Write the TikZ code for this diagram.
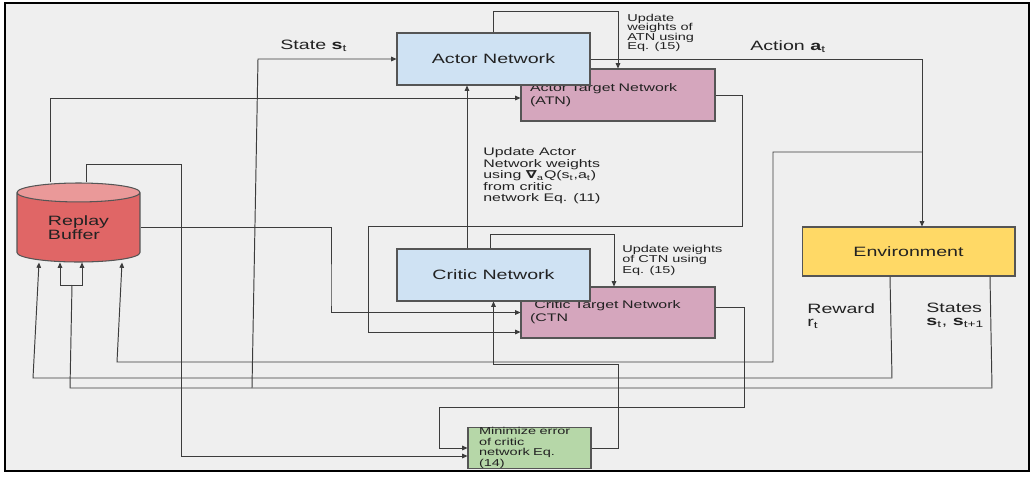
\documentclass[tikz,border=0pt]{standalone}
\usepackage{fontspec}
\setmainfont{Liberation Sans}[FakeStretch=1.45]
\newfontfamily\nablafont{DejaVu Sans}[FakeStretch=1.45]
\usetikzlibrary{arrows.meta,shapes.geometric}

\definecolor{bgc}{HTML}{EFEFEF}
\definecolor{linec}{HTML}{3C3C3C}
\definecolor{boxc}{HTML}{555555}
\definecolor{netc}{HTML}{CFE2F3}
\definecolor{tgtc}{HTML}{D5A6BD}
\definecolor{envc}{HTML}{FFD966}
\definecolor{minc}{HTML}{B6D7A8}
\definecolor{bufc}{HTML}{E06666}
\definecolor{buftop}{HTML}{EA9999}
\definecolor{txtc}{HTML}{222222}

\tikzset{
  box/.style={draw=boxc, line width=0.6pt, text=txtc, inner sep=0pt},
  net/.style={box, fill=netc, minimum width=3.86cm, minimum height=1.04cm, font=\fontsize{7.7}{7.9}\selectfont},
  tgt/.style={box, fill=tgtc, minimum width=3.88cm, minimum height=1.04cm, text width=3.52cm, align=left, font=\fontsize{6.25}{7.4}\selectfont},
  buffer/.style={cylinder, shape border rotate=90, aspect=0.31, draw=boxc, line width=0.6pt,
    cylinder uses custom fill, cylinder body fill=bufc, cylinder end fill=buftop,
    minimum width=2.46cm, minimum height=1.58cm, inner sep=0pt, align=left, text=txtc,
    font=\fontsize{7.7}{7.9}\selectfont},
  link/.style={draw=linec, line width=0.55pt},
  arr/.style={link, -{Triangle[length=3pt,width=2.6pt]}},
  bigtxt/.style={text=txtc, inner sep=0pt, align=left, font=\fontsize{7.7}{7.9}\selectfont},
  midtxt/.style={text=txtc, inner sep=0pt, align=left, font=\fontsize{6.25}{6.6}\selectfont},
  smltxt/.style={text=txtc, inner sep=0pt, align=left, font=\fontsize{5.7}{5.45}\selectfont},
}

\begin{document}
\begin{tikzpicture}[x=0.02cm,y=-0.02cm]
\useasboundingbox (0,0) rectangle (1032,477);
% frame
\draw[line width=1.3pt, fill=bgc] (5,3) rectangle (1029,471);

% ========== boxes ==========
\node[tgt] (atn) at (618,95) {Actor Target Network\\(ATN)};
\node[net] (actor) at (493.5,59) {Actor Network};
\node[tgt, minimum height=1.02cm] (ctn) at (618,312.5) {\hspace*{2.5pt}Critic Target Network\\(CTN};
\node[net] (critic) at (493.5,275) {Critic Network};
\node[box, fill=envc, minimum width=4.26cm, minimum height=0.98cm, font=\fontsize{7.7}{7.9}\selectfont] (env) at (908.5,251.5) {Environment};
\node[box, fill=minc, minimum width=2.46cm, minimum height=0.8cm, text width=2.02cm, align=left,
  font=\fontsize{5.7}{6.05}\selectfont] (mini) at (529.5,448) {Minimize error\\of critic\\network Eq.\\(14)};
\node[buffer] (buf) at (78.5,227.5) {Replay\\Buffer};

% ========== labels ==========
\node[bigtxt, anchor=base west] (lstate) at (280,49.3) {State \textbf{s}\textsubscript{t}};
\node[bigtxt, anchor=base west] (laction) at (750,50.5) {Action \textbf{a}\textsubscript{t}};
\node[smltxt, anchor=north west] (latn) at (627,13.4) {Update\\weights of\\ATN using\\Eq. (15)};
\node[smltxt, anchor=north west, font=\fontsize{5.7}{6.2}\selectfont] (lctn) at (622,244.4) {Update weights\\of CTN using\\Eq. (15)};
\node[midtxt, anchor=north west] (lgrad) at (483,147.1) {Update Actor\\Network weights\\using {\nablafont\bfseries ∇}\textsubscript{a}Q(s\textsubscript{t},a\textsubscript{t})\\from critic\\network Eq. (11)};
\node[bigtxt, anchor=north west] (lrew) at (807,302.9) {Reward\\r\textsubscript{t}};
\node[bigtxt, anchor=north west] (lsts) at (926,302.2) {States\\\textbf{s}\textsubscript{t}, \textbf{s}\textsubscript{t+1}};

% ========== connectors ==========
% actor -> ATN (soft update)
\draw[arr] (actor.north) -- (493.5,11) -| (atn.north);

% action a_t -> environment
\coordinate (act1) at (922,59);
\draw[arr] (actor.east) -- (act1) -- (act1 |- env.north);

% action a_t -> buffer
\coordinate (act2) at (922,152);
\draw[arr] (act2) -- (773,152) -- (773,362) -- (117,362) -- (122,0 |- buf.south);

% reward -> buffer
\draw[arr] (env.south -| 890,0) -- (892,378) -- (33,378) -- (39,0 |- buf.south);

% states -> buffer
\coordinate (sfork) at (72,285);
\draw[link] (env.south -| 990,0) -- (992,388) -- (70,388) -- (sfork);
\draw[arr] (sfork) -- (60,285) -- (60,0 |- buf.south);
\draw[arr] (sfork) -- (82,285) -- (82,0 |- buf.south);

% state s_t -> actor
\coordinate (sbr) at (252,388);
\draw[arr] (sbr) -- (258,59) -- (actor.west);

% buffer -> ATN
\draw[arr] (50,0 |- buf.north) -- (50,98) -- (atn.west |- 0,98);

% buffer -> minimize
\draw[arr] (86,0 |- buf.north) -- (86,164) -- (181,164) -- (181,456) -- (mini.west |- 0,456);

% buffer -> CTN
\draw[arr] (buf.east) -| (331,300) |- (ctn.west);

% ATN -> CTN
\draw[arr] (atn.east) -| (742,226) -- (368,226) |- (ctn.west |- 0,332);

% critic -> actor
\draw[arr] (467,0 |- critic.north) -- (467,0 |- actor.south);

% critic -> CTN (soft update)
\draw[arr] (490,0 |- critic.north) -- (490,234) -| (614,0 |- ctn.north);

% CTN -> minimize
\draw[arr] (ctn.east |- 0,307) -- (744,307) -- (744,407) -- (439,407) |- (mini.west);

% minimize -> critic
\draw[arr] (mini.east) -- (618,448) -- (618,364) -| (critic.south);
\end{tikzpicture}
\end{document}
